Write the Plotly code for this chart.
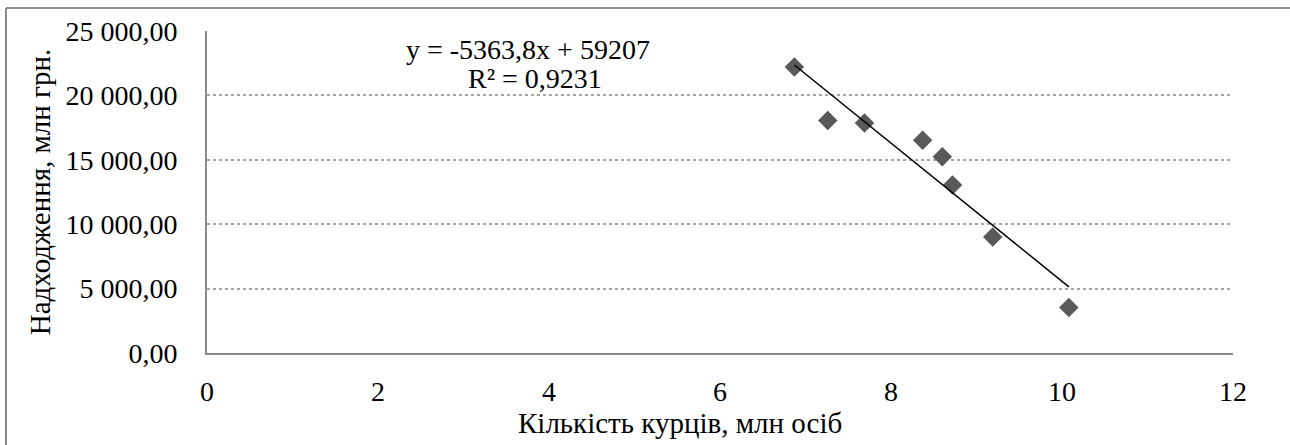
import plotly.graph_objects as go

# Data
smokers_mln = [6.87, 7.26, 7.69, 8.37, 8.60, 8.72, 9.19, 10.08]
revenue_mln_uah = [22200, 18050, 17850, 16520, 15230, 13040, 9010, 3530]

# Trendline coefficients (as printed on the chart)
slope = -5363.8
intercept = 59207
eq_line1 = "y = -5363,8x + 59207"
eq_line2 = "R² = 0,9231"

y_tick_vals = [0, 5000, 10000, 15000, 20000, 25000]
y_tick_text = ["0,00", "5 000,00", "10 000,00", "15 000,00", "20 000,00", "25 000,00"]
x_tick_vals = [0, 2, 4, 6, 8, 10, 12]

x_title = "Кількість курців, млн осіб"
y_title = "Надходження, млн грн."

FONT = "Liberation Serif, Times New Roman, serif"

fig = go.Figure()

fig.add_trace(go.Scatter(
    x=smokers_mln, y=revenue_mln_uah, mode="markers",
    marker=dict(symbol="diamond", size=15, color="#595959"),
    showlegend=False, hoverinfo="x+y",
))

x_line = [min(smokers_mln), max(smokers_mln)]
y_line = [slope * v + intercept for v in x_line]
fig.add_trace(go.Scatter(
    x=x_line, y=y_line, mode="lines",
    line=dict(color="black", width=1.5),
    showlegend=False, hoverinfo="skip",
))

W, H = 1290, 445
L, R, T, B = 207, 57, 31, 92
pw, ph = W - L - R, H - T - B

def px_to_paper_x(px):
    return (px - L) / pw

def px_to_paper_y(py):
    return (H - B - py) / ph

fig.add_annotation(
    x=px_to_paper_x(528), y=px_to_paper_y(50), xref="paper", yref="paper",
    xanchor="center", yanchor="middle",
    text=eq_line1, showarrow=False,
    font=dict(family=FONT, size=28, color="black"),
)
fig.add_annotation(
    x=px_to_paper_x(535), y=px_to_paper_y(78), xref="paper", yref="paper",
    xanchor="center", yanchor="middle",
    text=eq_line2, showarrow=False,
    font=dict(family=FONT, size=28, color="black"),
)

# x axis title (offset left of plot centre, as in the reference)
fig.add_annotation(
    x=px_to_paper_x(680), y=px_to_paper_y(423), xref="paper", yref="paper",
    xanchor="center", yanchor="middle",
    text=x_title, showarrow=False,
    font=dict(family=FONT, size=29, color="black"),
)

# outer chart border: only left and top edges are visible in the reference
border = dict(color="#8c8c8c", width=2)
fig.add_shape(type="line", xref="paper", yref="paper",
              x0=px_to_paper_x(6), x1=px_to_paper_x(6),
              y0=px_to_paper_y(H + 5), y1=px_to_paper_y(8), line=border)
fig.add_shape(type="line", xref="paper", yref="paper",
              x0=px_to_paper_x(6), x1=px_to_paper_x(W + 5),
              y0=px_to_paper_y(8), y1=px_to_paper_y(8), line=border)

fig.update_layout(
    width=W, height=H,
    margin=dict(l=L, r=R, t=T, b=B),
    paper_bgcolor="white", plot_bgcolor="white",
    font=dict(family=FONT, size=28, color="black"),
    xaxis=dict(
        range=[0, 12], tickvals=x_tick_vals,
        showgrid=False, zeroline=False,
        showline=True, linecolor="#8c8c8c", linewidth=2,
        ticks="", ticklabelstandoff=12,
        tickfont=dict(family=FONT, size=28),
    ),
    yaxis=dict(
        range=[0, 25000], tickvals=y_tick_vals, ticktext=y_tick_text,
        showgrid=True, gridcolor="#a6a6a6", griddash="dot", gridwidth=1.5,
        zeroline=False,
        showline=True, linecolor="#8c8c8c", linewidth=2,
        ticks="", ticklabelstandoff=22,
        title=dict(text=y_title, font=dict(family=FONT, size=29), standoff=6),
        tickfont=dict(family=FONT, size=28),
    ),
)

fig.write_html(
    "out.html",
    config={"displayModeBar": False},
    post_script="document.body.style.margin='0';document.body.style.overflow='hidden';",
)
